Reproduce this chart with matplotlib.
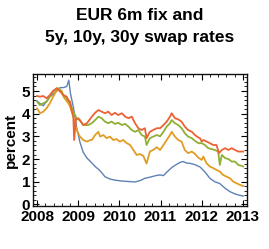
import matplotlib
matplotlib.use("Agg")
import matplotlib.pyplot as plt
from matplotlib.ticker import MultipleLocator

plt.rcParams['font.family'] = ['Liberation Sans', 'DejaVu Sans']
plt.rcParams['font.weight'] = 'bold'

# EUR 6m fix (Euribor)
fix_t = [2008.00, 2008.07, 2008.15, 2008.23, 2008.31, 2008.39, 2008.48, 2008.56, 2008.64, 2008.72,
         2008.77, 2008.81, 2008.88, 2008.96, 2009.04, 2009.12, 2009.21, 2009.29, 2009.41, 2009.49,
         2009.53, 2009.57, 2009.65, 2009.77, 2009.89, 2010.06, 2010.22, 2010.38, 2010.50, 2010.62,
         2010.74, 2010.91, 2010.99, 2011.07, 2011.15, 2011.27, 2011.35, 2011.47, 2011.55, 2011.64,
         2011.72, 2011.84, 2011.96, 2012.08, 2012.20, 2012.32, 2012.44, 2012.57, 2012.69, 2012.81,
         2012.93, 2013.01]
fix_v = [4.55, 4.45, 4.35, 4.55, 4.75, 4.85, 5.00, 5.15, 5.15, 5.20,
         5.48, 4.90, 4.30, 3.40, 2.75, 2.30, 2.05, 1.90, 1.67, 1.55,
         1.48, 1.40, 1.22, 1.12, 1.07, 1.03, 1.01, 0.99, 1.05, 1.15,
         1.20, 1.28, 1.30, 1.27, 1.42, 1.62, 1.72, 1.85, 1.89, 1.82,
         1.81, 1.75, 1.65, 1.43, 1.15, 1.00, 0.92, 0.71, 0.56, 0.46,
         0.40, 0.37]

# 5y swap
s5_t = [2008.00, 2008.07, 2008.15, 2008.23, 2008.31, 2008.39, 2008.48, 2008.51, 2008.60, 2008.64,
        2008.68, 2008.76, 2008.80, 2008.88, 2008.96, 2009.04, 2009.12, 2009.21, 2009.29, 2009.33,
        2009.41, 2009.49, 2009.53, 2009.61, 2009.69, 2009.77, 2009.85, 2009.93, 2010.01, 2010.09,
        2010.18, 2010.26, 2010.34, 2010.42, 2010.50, 2010.58, 2010.66, 2010.74, 2010.82, 2010.91,
        2010.99, 2011.07, 2011.15, 2011.23, 2011.27, 2011.35, 2011.43, 2011.51, 2011.59, 2011.67,
        2011.76, 2011.84, 2011.92, 2012.00, 2012.04, 2012.12, 2012.20, 2012.28, 2012.36, 2012.44,
        2012.52, 2012.61, 2012.69, 2012.77, 2012.85, 2012.93, 2013.01]
s5_v = [4.24, 4.02, 4.09, 4.24, 4.46, 4.75, 5.04, 5.12, 5.00, 4.75,
        4.65, 4.46, 4.32, 3.87, 3.28, 2.99, 2.84, 2.77, 2.84, 2.84,
        3.06, 3.20, 2.99, 3.06, 2.92, 2.99, 2.84, 2.88, 2.77, 2.84,
        2.70, 2.62, 2.40, 2.18, 2.22, 2.14, 1.80, 2.33, 2.40, 2.52,
        2.40, 2.62, 2.84, 3.06, 3.20, 2.99, 2.84, 2.77, 2.40, 2.26,
        2.33, 2.22, 2.06, 1.96, 2.11, 1.81, 1.67, 1.60, 1.52, 1.45,
        1.30, 1.22, 1.15, 1.00, 0.93, 0.86, 0.81]

# 10y swap
s10_t = [2008.00, 2008.07, 2008.15, 2008.23, 2008.31, 2008.39, 2008.48, 2008.56, 2008.64, 2008.72,
         2008.80, 2008.88, 2008.96, 2009.04, 2009.12, 2009.21, 2009.24, 2009.33, 2009.41, 2009.49,
         2009.57, 2009.65, 2009.73, 2009.81, 2009.89, 2009.97, 2010.06, 2010.14, 2010.22, 2010.30,
         2010.38, 2010.46, 2010.54, 2010.62, 2010.66, 2010.74, 2010.82, 2010.91, 2010.99, 2011.07,
         2011.15, 2011.23, 2011.27, 2011.35, 2011.43, 2011.51, 2011.59, 2011.67, 2011.76, 2011.84,
         2011.92, 2012.00, 2012.08, 2012.16, 2012.24, 2012.32, 2012.40, 2012.44, 2012.49, 2012.57,
         2012.65, 2012.73, 2012.81, 2012.89, 2012.97, 2013.01]
s10_v = [4.53, 4.38, 4.46, 4.53, 4.75, 4.97, 5.12, 5.04, 4.82, 4.68,
         4.46, 4.09, 3.80, 3.70, 3.50, 3.50, 3.50, 3.58, 3.72, 3.87,
         3.80, 3.65, 3.58, 3.65, 3.55, 3.60, 3.50, 3.55, 3.43, 3.28,
         3.20, 3.28, 3.06, 2.99, 2.62, 2.92, 2.99, 3.06, 3.00, 3.20,
         3.43, 3.58, 3.72, 3.58, 3.50, 3.36, 3.14, 2.99, 2.92, 2.80,
         2.70, 2.70, 2.62, 2.48, 2.44, 2.40, 2.33, 1.74, 2.18, 2.04,
         2.00, 1.89, 1.89, 1.74, 1.70, 1.67]

# 30y swap
s30_t = [2008.00, 2008.07, 2008.15, 2008.23, 2008.31, 2008.39, 2008.48, 2008.56, 2008.64, 2008.72,
         2008.76, 2008.80, 2008.84, 2008.88, 2008.90, 2008.94, 2009.00, 2009.04, 2009.12, 2009.21,
         2009.24, 2009.33, 2009.41, 2009.49, 2009.57, 2009.65, 2009.73, 2009.81, 2009.89, 2009.97,
         2010.06, 2010.14, 2010.22, 2010.30, 2010.38, 2010.46, 2010.54, 2010.62, 2010.66, 2010.74,
         2010.82, 2010.91, 2010.99, 2011.07, 2011.15, 2011.23, 2011.27, 2011.35, 2011.43, 2011.51,
         2011.59, 2011.67, 2011.76, 2011.84, 2011.92, 2011.96, 2012.00, 2012.04, 2012.12, 2012.20,
         2012.28, 2012.36, 2012.42, 2012.49, 2012.57, 2012.65, 2012.73, 2012.81, 2012.89, 2013.01]
s30_v = [4.78, 4.75, 4.78, 4.68, 4.82, 5.01, 5.12, 4.97, 4.82, 4.75,
         4.60, 4.53, 4.16, 3.87, 2.84, 3.72, 3.80, 3.72, 3.50, 3.58,
         3.65, 3.87, 4.04, 4.16, 4.09, 4.02, 4.09, 3.94, 4.04, 3.94,
         4.02, 3.87, 3.80, 3.87, 3.58, 3.36, 3.28, 3.36, 2.92, 3.20,
         3.28, 3.36, 3.36, 3.50, 3.65, 3.87, 4.02, 3.80, 3.75, 3.65,
         3.43, 3.28, 3.20, 3.05, 2.95, 2.92, 2.77, 2.84, 2.77, 2.70,
         2.62, 2.62, 2.26, 2.40, 2.48, 2.40, 2.48, 2.40, 2.33, 2.33]

fig = plt.figure(figsize=(2.69, 2.49), dpi=100)
ax = fig.add_axes([0.1227, 0.1727, 0.7953, 0.5301])

ax.plot(fix_t, fix_v, color="#5E81B5", lw=1.0)
ax.plot(s5_t, s5_v, color="#E19C24", lw=1.3)
ax.plot(s10_t, s10_v, color="#8FB032", lw=1.3)
ax.plot(s30_t, s30_v, color="#EB6235", lw=1.3)

ax.set_xlim(2007.9, 2013.1)
ax.set_ylim(-0.07, 5.75)
ax.set_xticks([2008, 2009, 2010, 2011, 2012, 2013])
ax.set_yticks([0, 1, 2, 3, 4, 5])
ax.xaxis.set_minor_locator(MultipleLocator(0.2))
ax.yaxis.set_minor_locator(MultipleLocator(0.2))
ax.tick_params(which="both", direction="in", top=True, right=True, labelsize=11)
ax.tick_params(axis="x", pad=3)
ax.tick_params(axis="y", pad=2)
ax.tick_params(which="major", length=4, width=0.8)
ax.tick_params(which="minor", length=2, width=0.6)
for lab in ax.get_xticklabels() + ax.get_yticklabels():
    lab.set_fontweight("bold")
for s in ax.spines.values():
    s.set_linewidth(1.0)
    s.set_color("#111111")

ax.set_ylabel("percent", fontsize=11, fontweight="bold", labelpad=3)
ax.set_title("EUR 6m fix and\n5y, 10y, 30y swap rates", fontsize=12.5, fontweight="bold",
             linespacing=1.55, pad=23)

plt.savefig("out.png", dpi=100)
